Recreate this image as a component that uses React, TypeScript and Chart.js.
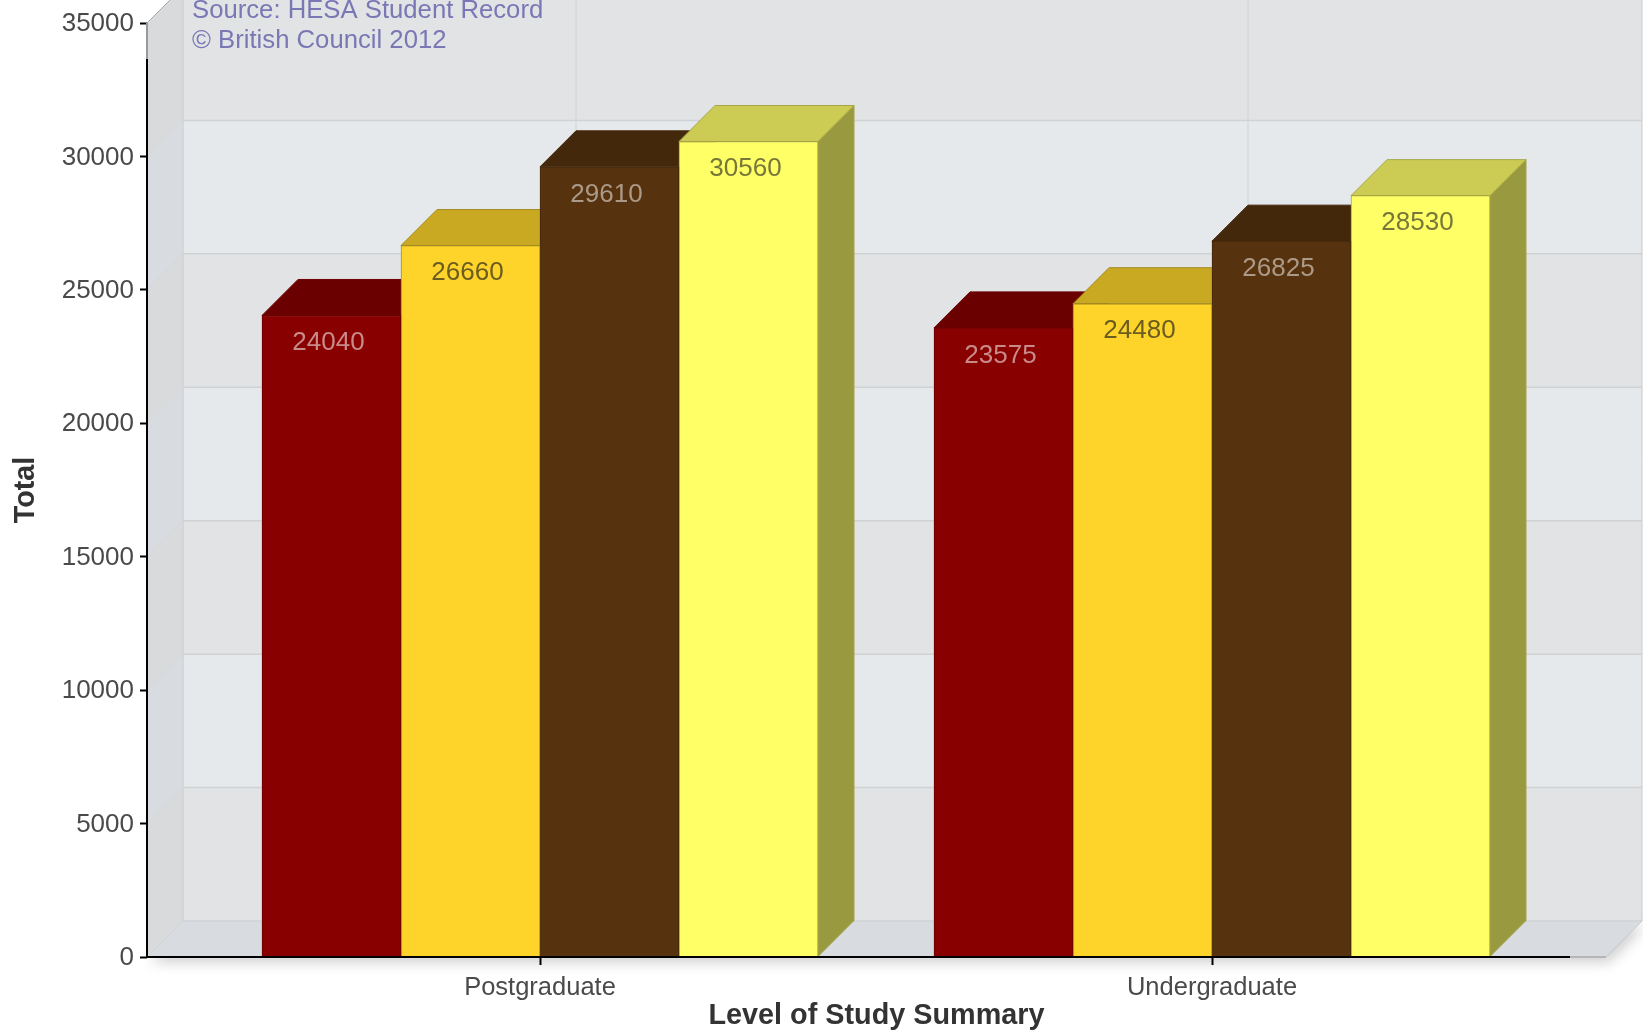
import React, { useEffect, useRef } from "react";
import { Chart, registerables } from "chart.js";

Chart.register(...registerables);

const categories = ["Postgraduate", "Undergraduate"];
const seriesA = [24040, 23575];
const seriesB = [26660, 24480];
const seriesC = [29610, 26825];
const seriesD = [30560, 28530];
const seriesValues = [seriesA, seriesB, seriesC, seriesD];

const frontColors = ["#880000", "#ffd42a", "#57320e", "#ffff66"];
const topColors = ["#6b0000", "#c9a822", "#43280c", "#cccc55"];
const sideColors = ["#520000", "#99801a", "#341e08", "#999940"];
const edgeColors = ["#6b0000", "#a38a20", "#43280c", "#a5a545"];
const valueLabelColors = ["#c98a8a", "#6b5c20", "#ab9a88", "#77773a"];

const yTicks = [0, 5000, 10000, 15000, 20000, 25000, 30000, 35000];
const sourceLines = ["Source: HESA Student Record", "© British Council 2012"];

const FONT = "'Liberation Sans', Arial, sans-serif";
const DEPTH = 36;

// Pixel frame of the front plane
const PLOT_LEFT = 147;
const PLOT_TOP = 23;
const PLOT_BOTTOM = 957;
const PLOT_RIGHT = 1606;
const AXIS_RIGHT = 1570;
const WALL_RIGHT = 1642;
const BAND = 672;
const FIRST_TICK = 540;

const poly = (ctx: CanvasRenderingContext2D, pts: number[][], fill: string, stroke?: string) => {
  ctx.beginPath();
  pts.forEach(([x, y], i) => (i ? ctx.lineTo(x, y) : ctx.moveTo(x, y)));
  ctx.closePath();
  ctx.fillStyle = fill;
  ctx.fill();
  if (stroke) {
    ctx.strokeStyle = stroke;
    ctx.lineWidth = 1;
    ctx.stroke();
  }
};

const seg = (ctx: CanvasRenderingContext2D, x1: number, y1: number, x2: number, y2: number, color: string, w: number) => {
  ctx.beginPath();
  ctx.moveTo(x1, y1);
  ctx.lineTo(x2, y2);
  ctx.strokeStyle = color;
  ctx.lineWidth = w;
  ctx.stroke();
};

// Room behind the bars: floor, left wall and banded back wall, then the
// top and side faces of the bars, left to right, under the library's front faces
const roomPlugin = {
  id: "room",
  beforeDatasetsDraw(chart: any) {
    const { ctx, scales } = chart;
    const y = scales.y;
    const x = scales.x;
    const floorY = y.getPixelForValue(0);
    const backLeft = PLOT_LEFT + DEPTH;
    const backFloor = floorY - DEPTH;
    ctx.save();

    ctx.save();
    ctx.shadowColor = "rgba(0,0,0,0.2)";
    ctx.shadowBlur = 14;
    ctx.shadowOffsetX = 3;
    ctx.shadowOffsetY = 5;
    poly(ctx, [[PLOT_LEFT, floorY], [backLeft, backFloor], [WALL_RIGHT, backFloor], [PLOT_RIGHT, floorY]], "#d8dce0");
    ctx.restore();

    for (let i = 0; i < yTicks.length - 1; i++) {
      const top = y.getPixelForValue(yTicks[i + 1]);
      const bottom = y.getPixelForValue(yTicks[i]);
      ctx.fillStyle = i % 2 === 0 ? "#e2e3e5" : "#e6e9ec";
      ctx.fillRect(backLeft, top - DEPTH, WALL_RIGHT - backLeft, bottom - top);
      poly(
        ctx,
        [[PLOT_LEFT, bottom], [backLeft, bottom - DEPTH], [backLeft, top - DEPTH], [PLOT_LEFT, top]],
        i % 2 === 0 ? "#d9dadc" : "#d8dce0"
      );
    }

    yTicks.slice(0, -1).forEach((v) => {
      const py = y.getPixelForValue(v);
      seg(ctx, backLeft, py - DEPTH, WALL_RIGHT, py - DEPTH, "#d0d2d4", 1.5);
      seg(ctx, PLOT_LEFT, py, backLeft, py - DEPTH, "#d2d4d7", 1);
    });
    categories.forEach((_, i) => {
      const px = x.getPixelForValue(i + 1) + DEPTH;
      seg(ctx, px, 0, px, backFloor, "#d0d2d4", 1);
    });
    seg(ctx, backLeft, 0, backLeft, backFloor, "#d0d2d4", 1.5);
    seg(ctx, WALL_RIGHT, 0, WALL_RIGHT, backFloor, "#c8cacc", 1);
    seg(ctx, WALL_RIGHT, backFloor, PLOT_RIGHT, floorY, "#c8cacc", 1);
    seg(ctx, PLOT_RIGHT, floorY, AXIS_RIGHT, floorY, "#aaaaaa", 1.5);

    const topY = y.getPixelForValue(35000);
    seg(ctx, PLOT_LEFT, topY, backLeft, topY - DEPTH, "#a8a8a8", 1);
    seg(ctx, PLOT_LEFT, topY, PLOT_LEFT, topY + DEPTH, "#999999", 2);
    seg(ctx, PLOT_LEFT, topY + DEPTH, PLOT_LEFT, floorY + 1, "#000000", 2);
    seg(ctx, PLOT_LEFT - 1, floorY, AXIS_RIGHT, floorY, "#000000", 2);

    ctx.font = `25.7px ${FONT}`;
    ctx.fillStyle = "#7a78b4";
    ctx.textAlign = "left";
    ctx.textBaseline = "middle";
    sourceLines.forEach((line, i) => ctx.fillText(line, 192, 11 + i * 29.5));

    chart.data.datasets.forEach((_: any, i: number) => {
      chart.getDatasetMeta(i).data.forEach((bar: any) => {
        const { x: cx, y: ty, base, width } = bar.getProps(["x", "y", "base", "width"], true);
        const left = cx - width / 2;
        const right = cx + width / 2;
        poly(ctx, [[right, ty], [right + DEPTH, ty - DEPTH], [right + DEPTH, base - DEPTH], [right, base]], sideColors[i], edgeColors[i]);
        poly(ctx, [[left, ty], [left + DEPTH, ty - DEPTH], [right + DEPTH, ty - DEPTH], [right, ty]], topColors[i], edgeColors[i]);
      });
    });
    ctx.restore();
  },
  afterDatasetsDraw(chart: any) {
    const { ctx } = chart;
    ctx.save();
    seg(ctx, PLOT_LEFT - 1, chart.scales.y.getPixelForValue(0), AXIS_RIGHT, chart.scales.y.getPixelForValue(0), "#000000", 2);
    ctx.font = `26px ${FONT}`;
    ctx.textAlign = "center";
    ctx.textBaseline = "middle";
    chart.data.datasets.forEach((_: any, i: number) => {
      ctx.fillStyle = valueLabelColors[i];
      chart.getDatasetMeta(i).data.forEach((bar: any, j: number) => {
        const { x, y } = bar.getProps(["x", "y"], true);
        ctx.fillText(String(seriesValues[i][j]), x - 3, y + 27.5);
      });
    });
    ctx.restore();
  },
};

export default function App() {
  const ref = useRef<HTMLCanvasElement>(null);
  useEffect(() => {
    const chart = new Chart(ref.current as HTMLCanvasElement, {
      type: "bar",
      plugins: [roomPlugin],
      data: {
        datasets: seriesValues.map((values, i) => ({
          label: `Series ${i + 1}`,
          data: values.map((v, j) => ({ x: j + 1, y: v })),
          backgroundColor: frontColors[i],
          borderColor: edgeColors[i],
          borderWidth: 1,
          barThickness: 139,
        })),
      },
      options: {
        responsive: false,
        animation: false,
        devicePixelRatio: 1,
        layout: { padding: { top: PLOT_TOP, right: 1643 - PLOT_RIGHT, left: 0, bottom: 0 } },
        plugins: { legend: { display: false }, tooltip: { enabled: false } },
        scales: {
          x: {
            type: "linear",
            offset: false,
            min: 1 - (FIRST_TICK - PLOT_LEFT) / BAND,
            max: 2 + (PLOT_RIGHT - (FIRST_TICK + BAND)) / BAND,
            afterBuildTicks: (scale: any) => {
              scale.ticks = categories.map((_, i) => ({ value: i + 1 }));
            },
            afterFit: (scale: any) => {
              scale.height = 1034 - PLOT_BOTTOM;
            },
            border: { display: false },
            grid: { offset: false, drawOnChartArea: false, drawTicks: true, tickColor: "#000000", tickLength: 8, tickWidth: 2 },
            ticks: {
              autoSkip: false,
              maxRotation: 0,
              padding: 8,
              color: "#4a4a4a",
              font: { family: FONT, size: 25.5 },
              callback: (v: any) => categories[Number(v) - 1] ?? "",
            },
            title: {
              display: true,
              text: "Level of Study Summary",
              color: "#333333",
              padding: { top: 0, bottom: 1 },
              font: { family: FONT, size: 28.8, weight: "bold" },
            },
          },
          y: {
            type: "linear",
            min: 0,
            max: 35000,
            afterBuildTicks: (scale: any) => {
              scale.ticks = yTicks.map((value) => ({ value }));
            },
            afterFit: (scale: any) => {
              scale.width = PLOT_LEFT;
            },
            border: { display: false },
            grid: { drawOnChartArea: false, drawTicks: true, tickColor: "#000000", tickLength: 7, tickWidth: 2 },
            ticks: {
              padding: 6,
              labelOffset: 1,
              color: "#4a4a4a",
              font: { family: FONT, size: 26 },
              callback: (v: any) => String(v),
            },
            title: {
              display: true,
              text: "Total",
              color: "#333333",
              padding: { top: 9, bottom: 0 },
              font: { family: FONT, size: 28.8, weight: "bold" },
            },
          },
        },
      },
    } as any);
    return () => chart.destroy();
  }, []);
  return (
    <div style={{ position: "absolute", left: 0, top: 0 }}>
      <canvas ref={ref} width={1643} height={1034} style={{ display: "block" }} />
    </div>
  );
}
